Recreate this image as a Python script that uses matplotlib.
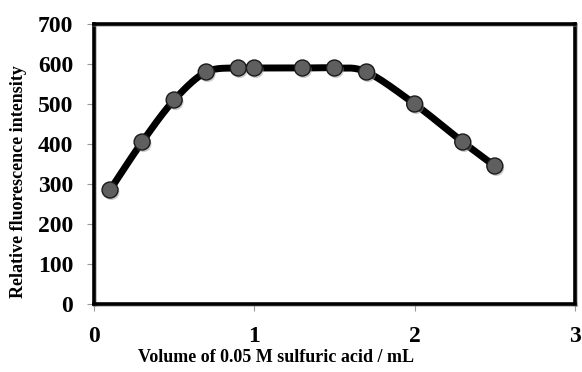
import numpy as np
import matplotlib
matplotlib.use("Agg")
import matplotlib.pyplot as plt
import matplotlib.patheffects as pe

# Fluorescence response vs. added sulfuric acid volume
volume_ml = [0.1, 0.3, 0.5, 0.7, 0.9, 1.0, 1.3, 1.5, 1.7, 2.0, 2.3, 2.5]
intensity = [285, 405, 510, 580, 590, 590, 590, 590, 580, 500, 405, 345]

x_ticks = [0, 1, 2, 3]
y_ticks = [0, 100, 200, 300, 400, 500, 600, 700]


def smooth_curve(xs, ys, steps=30):
    """Catmull-Rom style smoothing (as in spreadsheet 'smoothed line')."""
    xs = np.asarray(xs, float)
    ys = np.asarray(ys, float)
    px = np.concatenate([[xs[0]], xs, [xs[-1]]])
    py = np.concatenate([[ys[0]], ys, [ys[-1]]])
    out_x, out_y = [], []
    for i in range(1, len(px) - 2):
        p0 = np.array([px[i - 1], py[i - 1]])
        p1 = np.array([px[i], py[i]])
        p2 = np.array([px[i + 1], py[i + 1]])
        p3 = np.array([px[i + 2], py[i + 2]])
        c1 = p1 + (p2 - p0) / 6.0
        c2 = p2 - (p3 - p1) / 6.0
        t = np.linspace(0, 1, steps)[:, None]
        b = ((1 - t) ** 3) * p1 + 3 * ((1 - t) ** 2) * t * c1 \
            + 3 * (1 - t) * t ** 2 * c2 + t ** 3 * p2
        out_x.extend(b[:, 0])
        out_y.extend(b[:, 1])
    return np.array(out_x), np.array(out_y)


plt.rcParams["font.family"] = ["Liberation Serif", "DejaVu Serif"]
plt.rcParams["font.weight"] = "bold"

fig = plt.figure(figsize=(5.82, 3.72), dpi=100)
ax = fig.add_axes([94 / 582, 1 - 304 / 372, (575 - 94) / 582, (304 - 24) / 372])

sx, sy = smooth_curve(volume_ml, intensity)
ax.plot(sx, sy, color="black", lw=5, solid_capstyle="round", zorder=2)
ax.plot(volume_ml, intensity, linestyle="none", marker="o", markersize=11.5,
        markerfacecolor="#5f5f5f", markeredgecolor="#1a1a1a", markeredgewidth=1.0,
        zorder=3,
        path_effects=[pe.SimplePatchShadow(offset=(1, -1.5), shadow_rgbFace="#999999", alpha=0.5),
                      pe.Normal()])

ax.set_xlim(0, 3)
ax.set_ylim(0, 700)
ax.set_xticks(x_ticks)
ax.set_yticks(y_ticks)
ax.set_xticklabels([str(v) for v in x_ticks], fontsize=17, fontweight="bold")
ax.set_yticklabels([str(v) for v in y_ticks], fontsize=17, fontweight="bold")
ax.tick_params(axis="both", direction="out", length=5, width=0.8, color="#999999")
ax.tick_params(axis="y", pad=10)
ax.tick_params(axis="x", pad=11)

for side in ["left", "right", "top", "bottom"]:
    sp = ax.spines[side]
    sp.set_linewidth(2.6)
    sp.set_color("black")
    sp.set_path_effects([pe.SimpleLineShadow(offset=(1, -1), shadow_color="#888888", alpha=0.6),
                         pe.Normal()])

ax.set_xlabel("Volume of 0.05 M sulfuric acid / mL", fontsize=13, fontweight="bold")
ax.set_ylabel("Relative fluorescence intensity", fontsize=13, fontweight="bold")
ax.xaxis.set_label_coords(0.379, -0.162)
ax.yaxis.set_label_coords(-0.139, 0.436)

fig.savefig("out.png", dpi=100)
